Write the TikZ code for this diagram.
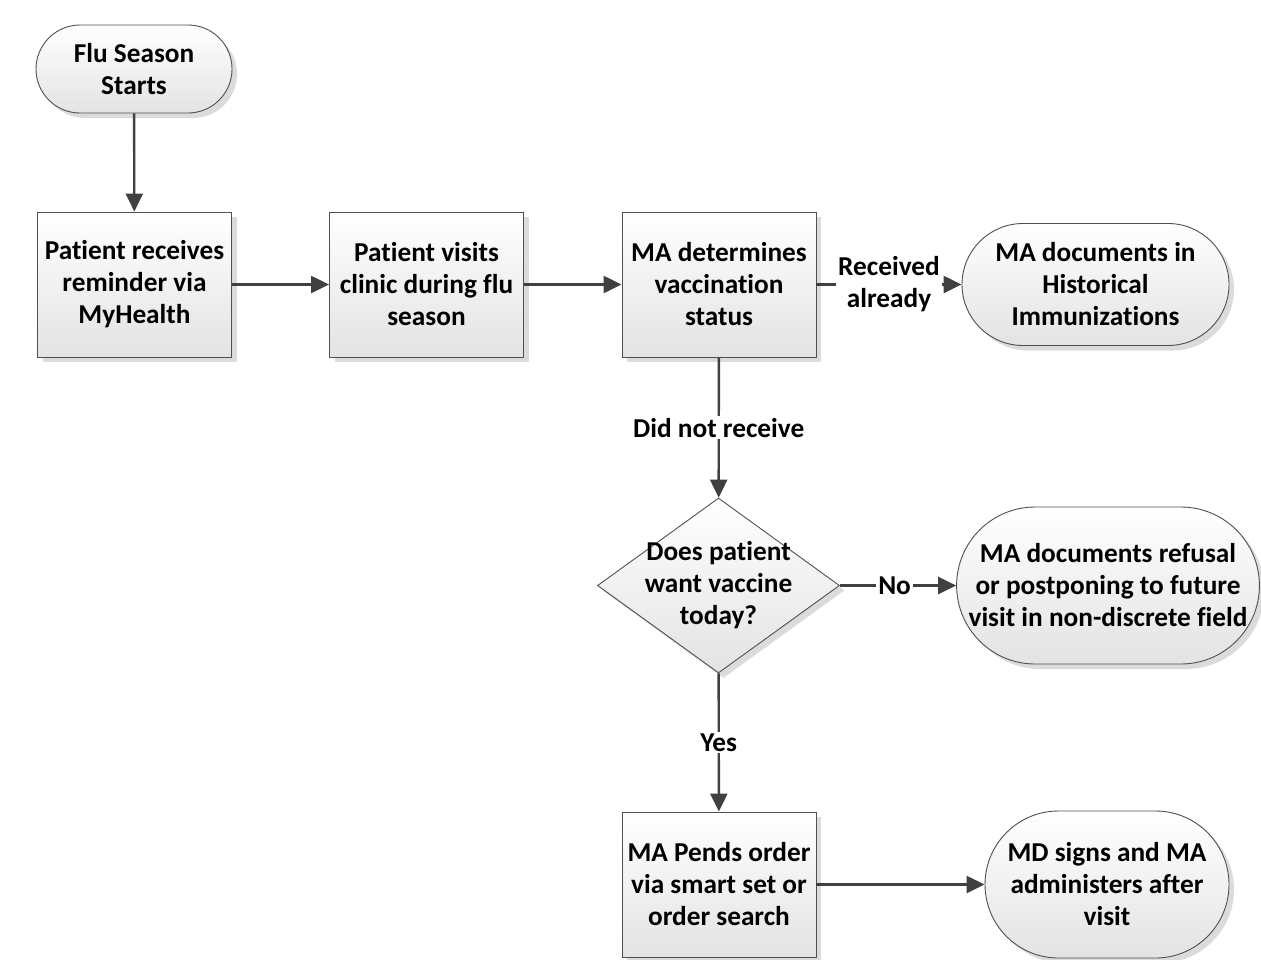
\documentclass[tikz,border=0pt]{standalone}
\usepackage{fontspec}
\setmainfont{Carlito}[Ligatures={NoCommon}]
\usetikzlibrary{shapes.geometric,shapes.misc,shadows,arrows.meta}
\definecolor{linegray}{HTML}{404040}
\definecolor{edgegray}{HTML}{505050}
\tikzset{
  txt/.style={font=\fontsize{27.3}{32}\selectfont\bfseries, align=center, text=black},
  shade/.style={top color=white, bottom color=black!11, draw=edgegray, line width=0.9pt,
    drop shadow={shadow xshift=5pt, shadow yshift=-5pt, fill=black, opacity=0.14}},
  procbox/.style={shade, txt, rectangle, inner sep=0pt, minimum width=194pt, minimum height=145pt},
  termbox/.style={shade, txt, rounded rectangle, inner sep=0pt},
  decision/.style={shade, diamond, inner sep=0pt, minimum width=242pt, minimum height=175pt},
  conn/.style={draw=linegray, line width=2.4pt, -{Triangle[length=18pt,width=17pt]}},
  lbl/.style={txt, fill=white, inner sep=2pt}
}
\begin{document}
\begin{tikzpicture}[x=1pt, y=-1pt]
\useasboundingbox (0,0) rectangle (1261,959);
\node[termbox, minimum width=196pt, minimum height=88pt] (start) at (134,69) {Flu Season\\Starts};
\node[procbox] (b1) at (134.5,284.5) {Patient receives\\reminder via\\MyHealth};
\node[procbox] (b2) at (426.5,284.5) {Patient visits\\clinic during flu\\season};
\node[procbox] (b3) at (719,284.5) {MA determines\\vaccination\\status};
\node[termbox, minimum width=267pt, minimum height=122pt] (t1) at (1095.5,284.5) {MA documents in\\Historical\\Immunizations};
\node[decision] (d) at (718.5,585.5) {};
\node[txt] (dt) at (d.center) {Does patient\\want vaccine\\today?};
\node[termbox, minimum width=292pt, minimum height=157pt] (t2) at (1108,585.5) {MA documents refusal\\or postponing to future\\visit in non-discrete field};
\node[procbox] (b4) at (719,884.5) {MA Pends order\\via smart set or\\order search};
\node[termbox, minimum width=244pt, minimum height=147pt] (t3) at (1107,884.5) {MD signs and MA\\administers after\\visit};
\draw[conn] (start) -- (b1);
\draw[conn] (b1) -- (b2);
\draw[conn] (b2) -- (b3);
\draw[conn] (b3) -- node[lbl]{Received\\already} (t1);
\draw[conn] (b3) -- node[lbl]{Did not receive} (d);
\draw[conn] (d) -- node[lbl, pos=0.47]{No} (t2);
\draw[conn] (d) -- node[lbl]{Yes} (b4);
\draw[conn] (b4) -- (t3);
\end{tikzpicture}
\end{document}
